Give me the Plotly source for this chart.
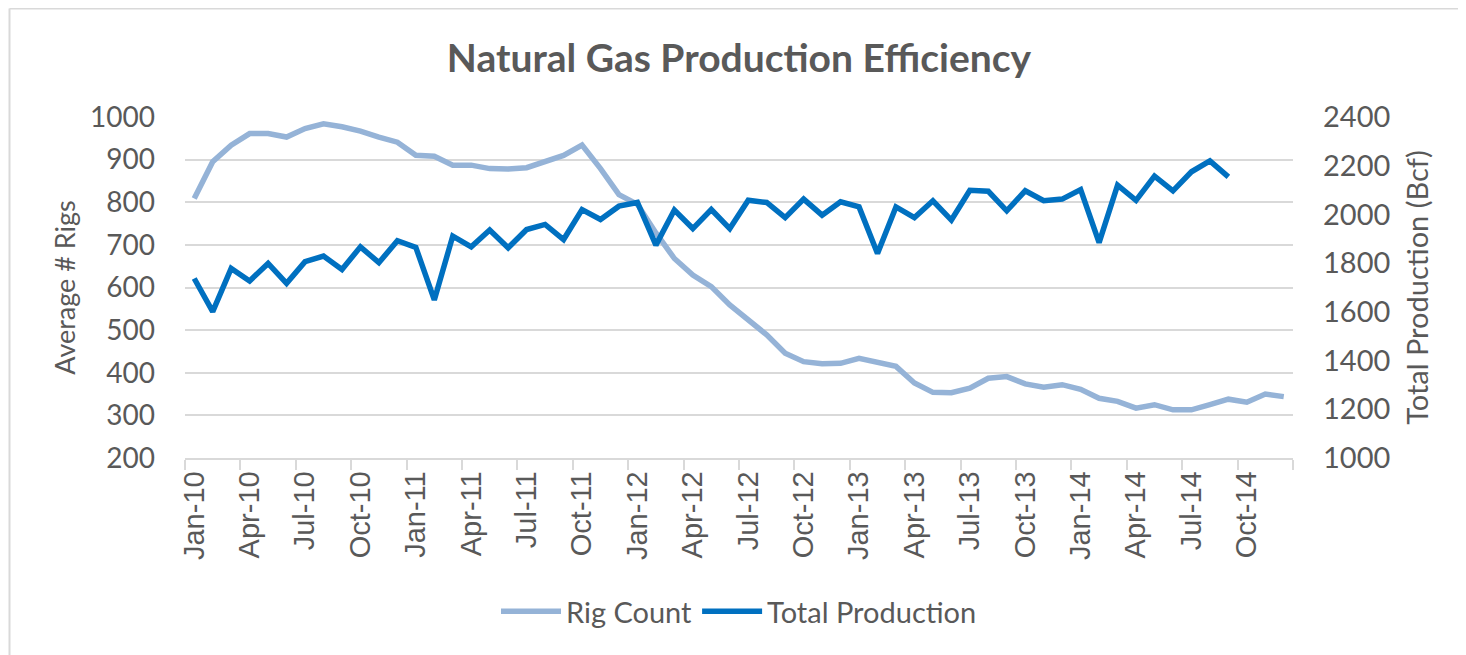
import pandas as pd
import plotly.graph_objects as go

months = [d.strftime("%b-%y") for d in pd.date_range("2010-01-01", "2014-12-01", freq="MS")]

rig_count = [809, 895, 934, 961, 961, 953, 973, 984, 977, 967,
             953, 941, 910, 908, 887, 887, 879, 878, 881, 895,
             910, 934, 879, 818, 795, 728, 668, 629, 602, 559,
             524, 489, 446, 426, 421, 422, 434, 426, 415, 376,
             354, 353, 364, 387, 391, 374, 366, 372, 361, 340,
             333, 317, 325, 313, 313, 325, 338, 331, 350, 344]

total_production = [1737, 1601, 1778, 1727, 1799, 1717, 1806, 1829, 1774, 1867,
                    1802, 1892, 1865, 1649, 1911, 1867, 1936, 1863, 1938, 1959,
                    1897, 2020, 1979, 2034, 2049, 1874, 2018, 1942, 2020, 1942,
                    2058, 2049, 1987, 2063, 1997, 2052, 2031, 1840, 2031, 1987,
                    2056, 1977, 2099, 2095, 2015, 2097, 2056, 2063, 2102, 1884,
                    2120, 2058, 2157, 2097, 2175, 2220, 2154]

left_ticks = [200, 300, 400, 500, 600, 700, 800, 900, 1000]
right_ticks = [1000, 1200, 1400, 1600, 1800, 2000, 2200, 2400]

GRAY = "#595959"
GRID = "#d9d9d9"
FONT = "Lato"

W, H = 1458, 647

fig = go.Figure()
fig.add_trace(go.Scatter(
    x=months, y=rig_count, name="Rig Count", mode="lines",
    line=dict(color="#95B3D7", width=5.5, shape="linear"), yaxis="y"))
fig.add_trace(go.Scatter(
    x=months[:len(total_production)], y=total_production, name="Total Production", mode="lines",
    line=dict(color="#0070C0", width=5.5), yaxis="y2"))

fig.update_layout(
    width=W, height=H,
    margin=dict(l=177, r=173, t=109, b=197),
    paper_bgcolor="white", plot_bgcolor="white",
    font=dict(family=FONT, color=GRAY),
    title=dict(text="<b>Natural Gas Production Efficiency</b>", x=0.5, xref="paper",
               xanchor="center", y=1 - 50 / H, yanchor="middle",
               font=dict(family=FONT, size=39, color=GRAY)),
    xaxis=dict(type="category", categoryorder="array", categoryarray=months,
               range=[-0.5, len(months) - 0.5],
               tickmode="linear", tick0=0, dtick=3, tickson="boundaries",
               ticks="outside", ticklen=10, tickcolor=GRID, tickwidth=1.5,
               tickangle=-90, tickfont=dict(family="Liberation Sans", size=29, color=GRAY),
               showgrid=False, showline=True, linecolor=GRID, linewidth=1.5,
               zeroline=False),
    yaxis=dict(range=[200, 1000], tickvals=left_ticks, showgrid=True, gridcolor=GRID,
               gridwidth=1.5, zeroline=False, showline=False, ticks="",
               ticklabelstandoff=29,
               tickfont=dict(family=FONT, size=28, color=GRAY),
               title=dict(text="Average # Rigs", standoff=6,
                          font=dict(family=FONT, size=27, color=GRAY))),
    yaxis2=dict(range=[1000, 2400], tickvals=right_ticks, overlaying="y", side="right",
                showgrid=False, zeroline=False, showline=False, ticks="",
                ticklabelstandoff=29,
                tickfont=dict(family=FONT, size=29, color=GRAY),
                title=dict(text="Total Production (Bcf)", standoff=18,
                           font=dict(family=FONT, size=29, color=GRAY))),
    legend=dict(orientation="h", x=0.5, xanchor="center", y=-0.45, yanchor="middle",
                font=dict(family=FONT, size=29, color=GRAY), itemwidth=60,
                bgcolor="rgba(0,0,0,0)"),
    showlegend=True,
)

# light chart border (left and top edges visible)
bx = (9.5 - 185) / 1108
by = (458.3 - 8) / 341.6
fig.add_shape(type="line", xref="paper", yref="paper", x0=bx, x1=bx, y0=by, y1=-0.7,
              line=dict(color=GRID, width=2))
fig.add_shape(type="line", xref="paper", yref="paper", x0=bx, x1=1.2, y0=by, y1=by,
              line=dict(color=GRID, width=2))

fig.write_html("out.html")
